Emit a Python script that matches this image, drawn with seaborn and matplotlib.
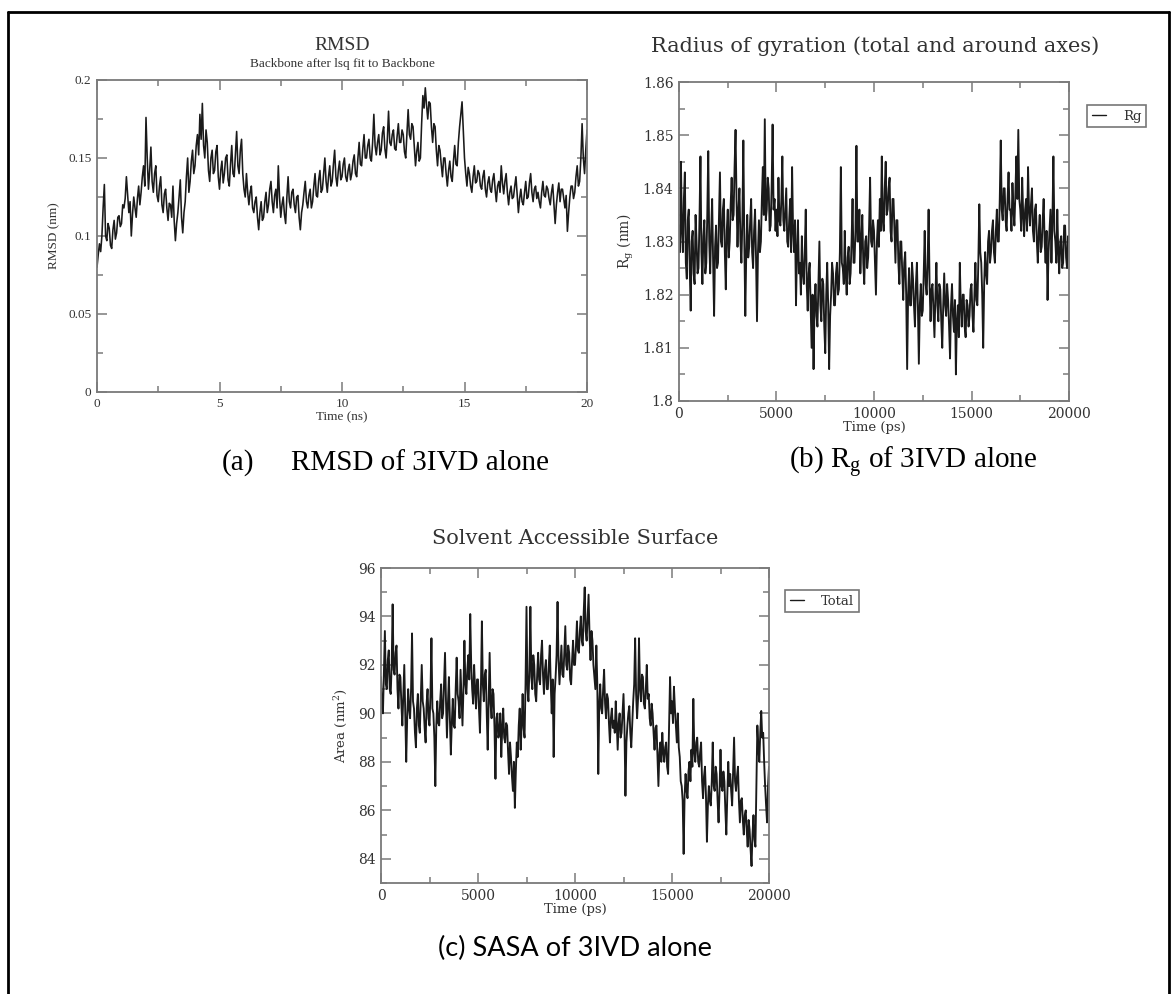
import numpy as np
import matplotlib
matplotlib.use("Agg")
import matplotlib.pyplot as plt
import seaborn as sns
from matplotlib.ticker import FixedLocator, MultipleLocator
from matplotlib.lines import Line2D

# ---------------- data ----------------
rmsd_time_ns = np.round(np.arange(0, 401) * 0.05, 2)
rmsd_nm = [
    0.080, 0.088, 0.095, 0.090, 0.100, 0.118, 0.133, 0.100, 0.097, 0.108, 0.105, 0.094, 0.092, 0.104, 0.110, 0.098, 0.102, 0.112, 0.113, 0.106,
    0.108, 0.120, 0.118, 0.124, 0.138, 0.126, 0.115, 0.122, 0.100, 0.114, 0.125, 0.118, 0.112, 0.124, 0.132, 0.120, 0.128, 0.138, 0.145, 0.132,
    0.176, 0.150, 0.130, 0.142, 0.157, 0.135, 0.128, 0.140, 0.145, 0.126, 0.122, 0.132, 0.138, 0.120, 0.115, 0.127, 0.130, 0.118, 0.110, 0.121,
    0.120, 0.112, 0.132, 0.110, 0.097, 0.108, 0.115, 0.125, 0.136, 0.112, 0.102, 0.115, 0.122, 0.138, 0.150, 0.128, 0.135, 0.148, 0.155, 0.140,
    0.145, 0.158, 0.165, 0.152, 0.178, 0.162, 0.185, 0.158, 0.150, 0.168, 0.160, 0.142, 0.135, 0.150, 0.155, 0.140, 0.142, 0.154, 0.158, 0.138,
    0.130, 0.142, 0.148, 0.134, 0.140, 0.150, 0.152, 0.136, 0.132, 0.146, 0.158, 0.140, 0.138, 0.152, 0.167, 0.145, 0.140, 0.155, 0.162, 0.140,
    0.130, 0.125, 0.140, 0.128, 0.120, 0.128, 0.132, 0.118, 0.115, 0.122, 0.125, 0.112, 0.104, 0.115, 0.122, 0.110, 0.112, 0.122, 0.128, 0.115,
    0.120, 0.130, 0.135, 0.122, 0.115, 0.126, 0.130, 0.118, 0.145, 0.125, 0.112, 0.120, 0.125, 0.114, 0.108, 0.125, 0.138, 0.122, 0.118, 0.128,
    0.130, 0.120, 0.115, 0.125, 0.126, 0.112, 0.104, 0.115, 0.120, 0.128, 0.135, 0.122, 0.118, 0.126, 0.130, 0.118, 0.122, 0.132, 0.140, 0.126,
    0.125, 0.136, 0.142, 0.128, 0.130, 0.140, 0.150, 0.135, 0.128, 0.138, 0.145, 0.132, 0.135, 0.146, 0.155, 0.138, 0.132, 0.142, 0.148, 0.136,
    0.138, 0.146, 0.150, 0.138, 0.135, 0.142, 0.146, 0.136, 0.140, 0.148, 0.152, 0.140, 0.138, 0.150, 0.160, 0.146, 0.145, 0.156, 0.165, 0.150,
    0.150, 0.158, 0.162, 0.150, 0.148, 0.160, 0.178, 0.158, 0.152, 0.160, 0.165, 0.152, 0.155, 0.166, 0.170, 0.156, 0.150, 0.162, 0.180, 0.160,
    0.158, 0.165, 0.168, 0.156, 0.155, 0.164, 0.172, 0.160, 0.160, 0.168, 0.165, 0.154, 0.150, 0.166, 0.181, 0.165, 0.162, 0.172, 0.170, 0.158,
    0.145, 0.154, 0.160, 0.148, 0.150, 0.172, 0.190, 0.182, 0.195, 0.184, 0.175, 0.186, 0.185, 0.170, 0.160, 0.172, 0.170, 0.155, 0.145, 0.158,
    0.155, 0.146, 0.138, 0.150, 0.150, 0.140, 0.132, 0.142, 0.148, 0.138, 0.135, 0.148, 0.158, 0.146, 0.145, 0.160, 0.170, 0.178, 0.186, 0.168,
    0.150, 0.140, 0.132, 0.144, 0.140, 0.132, 0.128, 0.138, 0.145, 0.134, 0.135, 0.142, 0.140, 0.132, 0.130, 0.138, 0.142, 0.130, 0.125, 0.134,
    0.138, 0.130, 0.128, 0.136, 0.140, 0.130, 0.122, 0.132, 0.135, 0.128, 0.145, 0.134, 0.127, 0.135, 0.140, 0.128, 0.120, 0.128, 0.132, 0.124,
    0.125, 0.132, 0.138, 0.126, 0.115, 0.124, 0.130, 0.122, 0.120, 0.128, 0.135, 0.124, 0.125, 0.134, 0.140, 0.128, 0.122, 0.130, 0.132, 0.124,
    0.128, 0.122, 0.118, 0.128, 0.135, 0.126, 0.125, 0.132, 0.130, 0.124, 0.120, 0.128, 0.133, 0.120, 0.108, 0.120, 0.128, 0.134, 0.122, 0.130,
    0.130, 0.124, 0.118, 0.126, 0.103, 0.115, 0.125, 0.132, 0.132, 0.124, 0.128, 0.138, 0.145, 0.132, 0.135, 0.150, 0.172, 0.150, 0.140, 0.155,
    0.168,
]

rg_time_ps = np.arange(0, 401) * 50
rg_nm = [
    1.833, 1.828, 1.845, 1.832, 1.828, 1.838, 1.843, 1.826, 1.823, 1.834, 1.836, 1.825, 1.817, 1.830, 1.832, 1.824, 1.822, 1.835, 1.830, 1.824,
    1.825, 1.834, 1.846, 1.828, 1.822, 1.831, 1.834, 1.824, 1.826, 1.835, 1.847, 1.830, 1.824, 1.832, 1.838, 1.826, 1.816, 1.829, 1.833, 1.825,
    1.826, 1.835, 1.843, 1.830, 1.829, 1.836, 1.838, 1.828, 1.821, 1.832, 1.836, 1.827, 1.830, 1.837, 1.842, 1.834, 1.835, 1.844, 1.851, 1.838,
    1.829, 1.836, 1.840, 1.830, 1.826, 1.834, 1.849, 1.830, 1.816, 1.828, 1.835, 1.827, 1.829, 1.834, 1.838, 1.828, 1.825, 1.832, 1.836, 1.827,
    1.815, 1.828, 1.834, 1.828, 1.830, 1.838, 1.844, 1.835, 1.853, 1.834, 1.836, 1.842, 1.840, 1.832, 1.833, 1.840, 1.852, 1.836, 1.838, 1.832,
    1.836, 1.831, 1.842, 1.834, 1.833, 1.838, 1.846, 1.834, 1.832, 1.836, 1.840, 1.830, 1.829, 1.834, 1.838, 1.828, 1.844, 1.832, 1.828, 1.834,
    1.818, 1.828, 1.834, 1.824, 1.826, 1.820, 1.831, 1.824, 1.822, 1.828, 1.836, 1.822, 1.817, 1.824, 1.826, 1.818, 1.810, 1.820, 1.806, 1.818,
    1.822, 1.816, 1.814, 1.822, 1.830, 1.818, 1.815, 1.823, 1.822, 1.814, 1.809, 1.820, 1.826, 1.818, 1.806, 1.816, 1.820, 1.826, 1.824, 1.818,
    1.818, 1.824, 1.826, 1.820, 1.821, 1.828, 1.844, 1.826, 1.825, 1.822, 1.832, 1.824, 1.820, 1.827, 1.829, 1.822, 1.824, 1.830, 1.838, 1.826,
    1.826, 1.832, 1.848, 1.830, 1.830, 1.836, 1.824, 1.830, 1.835, 1.826, 1.822, 1.830, 1.831, 1.825, 1.827, 1.833, 1.842, 1.830, 1.829, 1.834,
    1.832, 1.826, 1.820, 1.830, 1.834, 1.829, 1.838, 1.832, 1.846, 1.834, 1.832, 1.840, 1.845, 1.835, 1.836, 1.840, 1.842, 1.832, 1.830, 1.838,
    1.838, 1.832, 1.826, 1.834, 1.834, 1.826, 1.822, 1.830, 1.830, 1.824, 1.819, 1.826, 1.828, 1.820, 1.806, 1.820, 1.825, 1.818, 1.818, 1.826,
    1.823, 1.818, 1.814, 1.822, 1.826, 1.818, 1.807, 1.818, 1.822, 1.816, 1.817, 1.824, 1.832, 1.822, 1.820, 1.826, 1.836, 1.822, 1.815, 1.821,
    1.822, 1.817, 1.812, 1.820, 1.826, 1.818, 1.815, 1.822, 1.821, 1.815, 1.810, 1.818, 1.824, 1.818, 1.816, 1.822, 1.819, 1.814, 1.808, 1.818,
    1.822, 1.816, 1.813, 1.819, 1.805, 1.815, 1.818, 1.812, 1.826, 1.818, 1.814, 1.820, 1.820, 1.814, 1.812, 1.819, 1.818, 1.814, 1.816, 1.821,
    1.822, 1.816, 1.813, 1.820, 1.826, 1.819, 1.818, 1.826, 1.837, 1.828, 1.826, 1.820, 1.810, 1.822, 1.828, 1.824, 1.822, 1.830, 1.832, 1.826,
    1.828, 1.832, 1.834, 1.828, 1.826, 1.832, 1.836, 1.830, 1.830, 1.838, 1.849, 1.836, 1.834, 1.840, 1.840, 1.834, 1.832, 1.838, 1.843, 1.836,
    1.836, 1.832, 1.841, 1.836, 1.833, 1.839, 1.846, 1.838, 1.851, 1.838, 1.836, 1.832, 1.842, 1.835, 1.831, 1.836, 1.838, 1.832, 1.844, 1.836,
    1.833, 1.837, 1.840, 1.832, 1.830, 1.836, 1.837, 1.830, 1.826, 1.832, 1.835, 1.828, 1.829, 1.834, 1.838, 1.830, 1.826, 1.832, 1.819, 1.828,
    1.832, 1.836, 1.826, 1.834, 1.846, 1.832, 1.830, 1.826, 1.836, 1.828, 1.824, 1.830, 1.831, 1.825, 1.826, 1.833, 1.833, 1.827, 1.825, 1.831,
    1.830,
]

sasa_time_ps = np.arange(0, 401) * 50
sasa_nm2 = [
    91.5, 90.2, 90.0, 91.8, 93.4, 91.2, 91.0, 92.2, 92.6, 91.0, 90.8, 92.0, 94.5, 91.8, 91.6, 92.5, 92.8, 91.0, 90.2, 91.6,
    91.5, 90.4, 89.5, 90.8, 92.0, 90.0, 88.0, 89.8, 91.0, 90.2, 89.8, 91.0, 93.3, 90.5, 90.2, 89.2, 88.6, 90.2, 90.8, 89.5,
    89.2, 90.6, 92.0, 90.5, 90.2, 89.4, 88.8, 90.4, 91.0, 89.8, 89.5, 90.8, 93.1, 90.2, 90.0, 89.0, 87.0, 89.5, 90.5, 89.6,
    89.5, 90.5, 91.2, 89.8, 90.0, 91.2, 92.5, 90.5, 89.0, 90.4, 91.5, 89.8, 88.3, 89.6, 90.6, 89.5, 89.4, 91.0, 92.3, 90.8,
    90.5, 89.8, 91.8, 90.6, 89.5, 91.0, 93.0, 91.2, 90.8, 91.8, 92.4, 91.4, 94.1, 92.0, 91.0, 90.4, 92.0, 91.0, 90.2, 91.4,
    91.4, 90.2, 89.2, 91.0, 93.8, 91.2, 90.5, 91.6, 91.8, 90.0, 88.5, 90.5, 92.5, 90.4, 89.8, 91.0, 90.8, 89.4, 87.3, 89.8,
    90.0, 89.0, 89.2, 90.0, 88.2, 89.4, 90.2, 89.0, 88.8, 89.6, 89.5, 88.4, 87.5, 88.8, 88.2, 87.4, 86.8, 88.0, 86.1, 87.6,
    88.8, 88.2, 89.5, 90.2, 88.5, 89.5, 90.8, 89.4, 89.0, 91.2, 94.4, 91.0, 90.5, 91.8, 94.4, 91.5, 91.0, 92.4, 92.0, 90.8,
    90.5, 91.6, 92.5, 91.4, 91.2, 92.4, 93.0, 91.6, 90.8, 91.8, 92.2, 91.0, 91.0, 92.0, 92.8, 91.2, 90.0, 91.4, 88.2, 90.8,
    91.5, 92.4, 94.6, 92.2, 91.2, 92.0, 92.8, 91.6, 91.5, 92.6, 93.6, 92.0, 91.8, 92.8, 92.5, 91.4, 91.2, 92.2, 93.0, 92.0,
    92.0, 92.8, 93.8, 92.6, 92.5, 93.4, 94.0, 93.0, 92.8, 94.2, 95.2, 93.4, 93.0, 94.0, 94.9, 93.2, 92.2, 93.4, 93.0, 92.0,
    91.5, 91.0, 92.8, 91.2, 87.5, 90.4, 91.2, 90.2, 90.0, 91.0, 91.8, 90.4, 89.8, 90.8, 90.6, 89.6, 88.8, 89.8, 90.2, 89.4,
    89.7, 89.2, 90.5, 89.6, 88.5, 89.6, 90.0, 89.0, 89.2, 90.0, 90.8, 89.4, 86.6, 88.8, 89.5, 90.0, 90.3, 89.2, 88.6, 89.6,
    90.5, 91.2, 93.1, 90.8, 89.8, 90.6, 93.1, 91.0, 90.5, 91.6, 91.5, 90.4, 90.2, 91.0, 92.0, 90.6, 90.8, 89.8, 89.5, 90.4,
    90.0, 89.2, 88.5, 89.4, 89.5, 88.2, 87.0, 88.4, 88.8, 88.0, 89.2, 88.4, 88.0, 88.6, 88.8, 87.8, 87.5, 89.4, 91.5, 90.0,
    90.5, 89.6, 91.1, 90.2, 89.5, 88.8, 90.0, 88.6, 88.2, 87.2, 87.0, 86.4, 84.2, 86.6, 87.5, 86.8, 86.5, 87.6, 88.0, 87.2,
    88.5, 87.8, 90.6, 88.4, 88.0, 88.8, 89.0, 88.0, 87.8, 88.4, 88.8, 87.2, 86.5, 87.4, 87.8, 86.6, 84.7, 86.2, 87.0, 86.4,
    86.2, 87.2, 88.8, 87.0, 86.8, 87.8, 87.5, 86.4, 85.5, 86.8, 88.5, 87.0, 86.8, 87.6, 87.2, 86.0, 85.0, 86.6, 88.0, 87.0,
    87.5, 86.8, 86.2, 87.6, 89.0, 87.2, 86.8, 87.4, 87.8, 86.4, 85.5, 86.4, 86.5, 85.6, 85.0, 85.8, 86.0, 85.2, 84.5, 85.6,
    85.2, 84.4, 83.7, 85.0, 85.8, 84.8, 84.5, 87.0, 89.5, 88.6, 88.0, 89.2, 90.1, 89.0, 89.2, 88.0, 87.0, 86.2, 85.5, 87.0,
    87.8,
]

rmsd_xticks = [0, 5, 10, 15, 20]
rmsd_yticks = [0, 0.05, 0.1, 0.15, 0.2]
rmsd_yticklabels = ["0", "0.05", "0.1", "0.15", "0.2"]
ps_xticks = [0, 5000, 10000, 15000, 20000]
rg_yticks = [1.80, 1.81, 1.82, 1.83, 1.84, 1.85, 1.86]
rg_yticklabels = ["1.8", "1.81", "1.82", "1.83", "1.84", "1.85", "1.86"]
sasa_yticks = [84, 86, 88, 90, 92, 94, 96]

# ---------------- figure ----------------
sns.set_theme(style="ticks")
plt.rcParams["font.family"] = ["Liberation Serif", "DejaVu Serif"]
plt.rcParams["mathtext.default"] = "regular"

W, H = 1176, 994
fig = plt.figure(figsize=(W / 100, H / 100), dpi=100)
fig.patch.set_facecolor("white")


def fx(x):
    return x / W


def fy(y):
    return 1 - y / H


def add_axes_px(x0, y0, x1, y1):
    return fig.add_axes([fx(x0), fy(y1), (x1 - x0) / W, (y1 - y0) / H])


GREY = "#7a7a7a"
LINE = "#1a1a1a"
TXT = "#333333"


def style(ax, xticks, xlabels, xminor, yticks, ylabels, yminor, family, size):
    ax.set_facecolor("white")
    ax.xaxis.set_major_locator(FixedLocator(xticks))
    ax.set_xticklabels(xlabels)
    ax.xaxis.set_minor_locator(MultipleLocator(xminor))
    ax.yaxis.set_major_locator(FixedLocator(yticks))
    ax.set_yticklabels(ylabels)
    ax.yaxis.set_minor_locator(MultipleLocator(yminor))
    ax.tick_params(which="both", direction="in", top=True, right=True,
                   color=GREY, width=1.1, labelcolor=TXT, pad=4)
    ax.tick_params(which="major", length=7)
    ax.tick_params(which="minor", length=4)
    for lab in ax.get_xticklabels() + ax.get_yticklabels():
        lab.set_family(family)
        lab.set_fontsize(size)
    for s in ax.spines.values():
        s.set_visible(True)
        s.set_color(GREY)
        s.set_linewidth(1.3)
    ax.grid(False)


def legend(ax, x, y, size):
    leg = ax.legend(loc="upper left", bbox_to_anchor=(fx(x), fy(y)),
                    bbox_transform=fig.transFigure, frameon=True,
                    fancybox=False, edgecolor="#555555", handlelength=1.1,
                    handletextpad=1.3, borderpad=0.35, borderaxespad=0,
                    prop={"family": "DejaVu Serif", "size": size})
    leg.get_frame().set_linewidth(1.2)
    for h in leg.get_lines():
        h.set_linewidth(1.0)
    for t in leg.get_texts():
        t.set_color(TXT)
    return leg


# ---- panel (a) RMSD ----
ax1 = add_axes_px(97, 80, 587, 392)
sns.lineplot(x=rmsd_time_ns, y=rmsd_nm, ax=ax1, color=LINE, linewidth=1.15,
             estimator=None, sort=False)
ax1.set_xlim(0, 20)
ax1.set_ylim(0, 0.2)
style(ax1, rmsd_xticks, [str(v) for v in rmsd_xticks], 2.5,
      rmsd_yticks, rmsd_yticklabels, 0.025, "Liberation Serif", 9.5)
ax1.set_xlabel("Time (ns)", family="Liberation Serif", fontsize=9.5,
               color=TXT, labelpad=1)
ax1.set_ylabel("RMSD (nm)", family="Liberation Serif", fontsize=9.5,
               color=TXT, labelpad=6)
fig.text(fx(342), fy(46), "RMSD", family="Liberation Serif", fontsize=14,
         color=TXT, ha="center", va="center")
fig.text(fx(342), fy(64), "Backbone after lsq fit to Backbone",
         family="Liberation Serif", fontsize=9.5, color=TXT,
         ha="center", va="center")

# ---- panel (b) Rg ----
ax2 = add_axes_px(679, 82, 1069, 401)
sns.lineplot(x=rg_time_ps, y=rg_nm, ax=ax2, color=LINE, linewidth=1.35,
             estimator=None, sort=False, label="Rg")
ax2.set_xlim(0, 20000)
ax2.set_ylim(1.80, 1.86)
style(ax2, ps_xticks, [str(v) for v in ps_xticks], 2500,
      rg_yticks, rg_yticklabels, 0.005, "DejaVu Serif", 10)
ax2.set_xlabel("Time (ps)", family="DejaVu Serif", fontsize=9.5,
               color=TXT, labelpad=0)
ax2.set_ylabel("R$_g$ (nm)", family="DejaVu Serif", fontsize=10,
               color=TXT, labelpad=5)
fig.text(fx(875), fy(46), "Radius of gyration (total and around axes)",
         family="DejaVu Serif", fontsize=15, color=TXT,
         ha="center", va="center")
legend(ax2, 1087, 105, 9.5)

# ---- panel (c) SASA ----
ax3 = add_axes_px(381, 568, 769, 883)
sns.lineplot(x=sasa_time_ps, y=sasa_nm2, ax=ax3, color=LINE, linewidth=1.35,
             estimator=None, sort=False, label="Total")
ax3.set_xlim(0, 20000)
ax3.set_ylim(83, 96)
style(ax3, ps_xticks, [str(v) for v in ps_xticks], 2500,
      sasa_yticks, [str(v) for v in sasa_yticks], 1, "DejaVu Serif", 10)
ax3.set_xlabel("Time (ps)", family="DejaVu Serif", fontsize=9.5,
               color=TXT, labelpad=0)
ax3.set_ylabel("Area (nm$^2$)", family="DejaVu Serif", fontsize=9.5,
               color=TXT, labelpad=6)
fig.text(fx(575), fy(538), "Solvent Accessible Surface",
         family="DejaVu Serif", fontsize=15, color=TXT,
         ha="center", va="center")
legend(ax3, 785, 590, 9.5)

# ---- captions ----
fig.text(fx(222), fy(463), "(a)", family="Liberation Serif", fontsize=21,
         color="black", ha="left", va="center")
fig.text(fx(291), fy(463), "RMSD of 3IVD alone", family="Liberation Serif",
         fontsize=21, color="black", ha="left", va="center")
fig.text(fx(913), fy(463), "(b) R$_g$ of 3IVD alone",
         family="Liberation Serif", fontsize=21, color="black",
         ha="center", va="center")
fig.text(fx(575), fy(948), "(c) SASA of 3IVD alone", family="Lato",
         fontsize=19.5, color="black", ha="center", va="center")

# ---- outer frame ----
for xs, ys in [((8, 8), (12, 994)), ((8, 1169), (12, 12)),
               ((1169, 1169), (12, 994))]:
    fig.add_artist(Line2D([fx(xs[0]), fx(xs[1])], [fy(ys[0]), fy(ys[1])],
                          transform=fig.transFigure, color="black",
                          linewidth=2))

fig.savefig("out.png", dpi=100, facecolor="white")
